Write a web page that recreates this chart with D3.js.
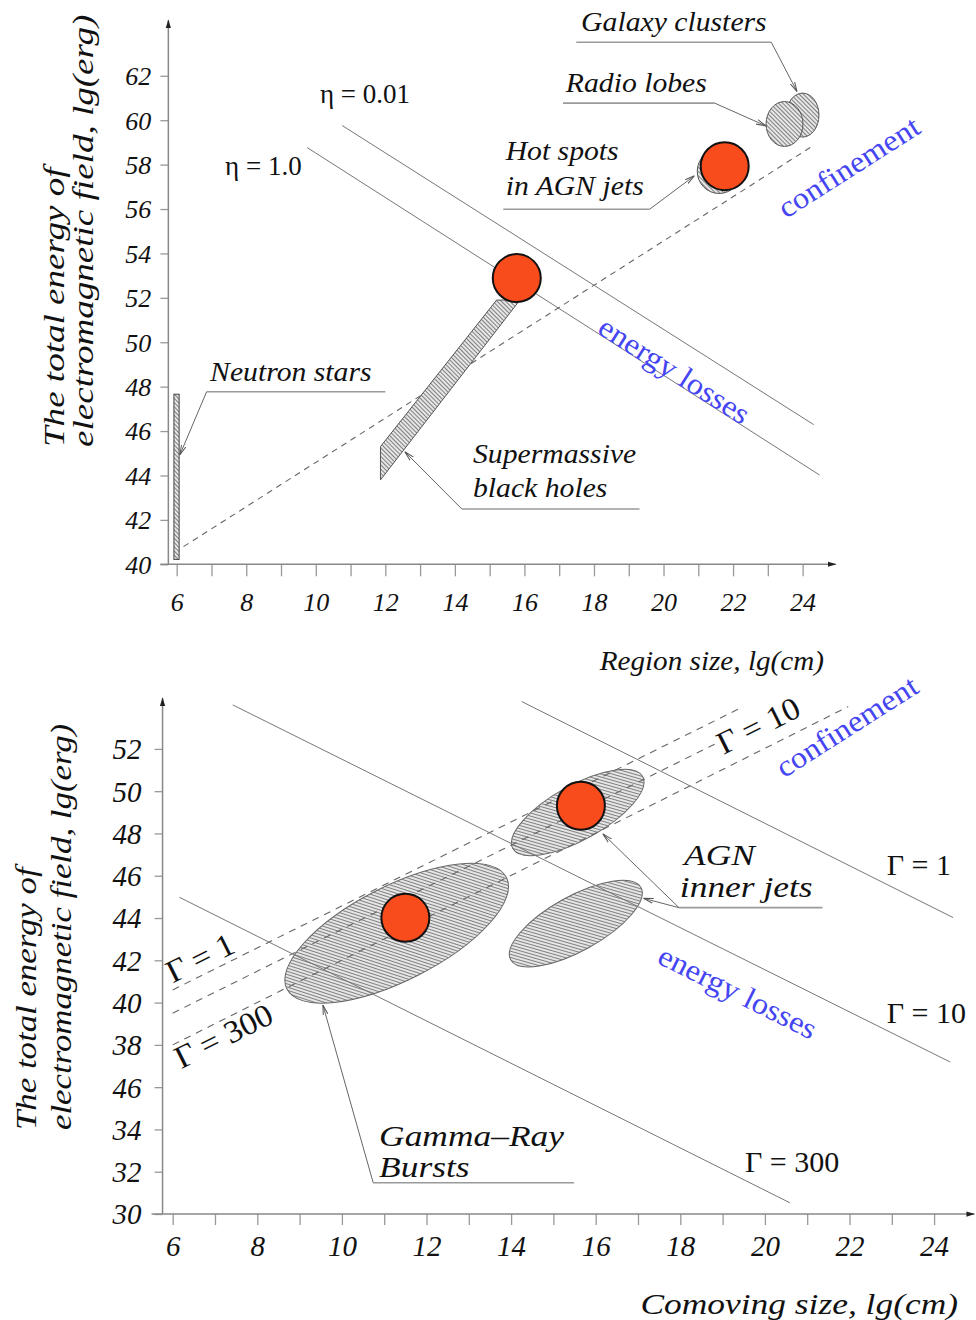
<!DOCTYPE html>
<html>
<head>
<meta charset="utf-8">
<script src="https://d3js.org/d3.v7.min.js"></script>
<style>
  body { margin: 0; background: #fff; }
  svg { display: block; }
</style>
</head>
<body>
<svg id="chart" width="976" height="1320"></svg>
<script>
// ---------- top panel: region size vs. field energy ----------
const topXTicks = d3.range(6, 25, 1)
const topYTicks = d3.range(40, 63, 2)

// loss lines (eta) and confinement line, [lg(cm), lg(erg)]
const etaLines = [
  { label: 'η = 1.0', pts: [[9.75, 58.77], [24.49, 44.02]] },
  { label: 'η = 0.01', pts: [[10.76, 59.76], [24.32, 46.29]] },
]
const topConfinement = [[5.93, 40.53], [24.25, 58.8]]

// source regions
const neutronStars = { x0: 5.92, x1: 6.07, y0: 40.22, y1: 47.66 }
const blackHoles = [[11.86, 43.8], [11.86, 45.3], [15.2, 51.9], [15.87, 51.9]]
const topBlobs = [
  { name: 'Galaxy clusters', cx: 24.0, cy: 60.23, rx: 0.47, ry: 0.99 },
  { name: 'Radio lobes', cx: 23.48, cy: 59.83, rx: 0.53, ry: 1.01 },
  { name: 'Hot spots', cx: 21.6, cy: 57.7, rx: 0.63, ry: 1.0 },
]
const topPoints = [[15.78, 52.89], [21.76, 57.93]]

const topNotes = [
  { text: 'Galaxy clusters', at: [17.63, 64.03] },
  { text: 'Radio lobes', at: [17.19, 61.27] },
  { text: 'Hot spots', at: [15.46, 58.21] },
  { text: 'in AGN jets', at: [15.46, 56.64] },
  { text: 'Neutron stars', at: [6.96, 48.26] },
  { text: 'Supermassive', at: [14.52, 44.55] },
  { text: 'black holes', at: [14.52, 43.03] },
]
const topLeaders = [
  { under: [[17.49, 63.51], [23.1, 63.51]], tips: [[23.84, 61.29]] },
  { under: [[17.11, 60.77], [21.47, 60.77]], tips: [[22.95, 59.74]] },
  { under: [[15.39, 55.99], [19.6, 55.99]], tips: [[20.89, 57.5]] },
  { under: [[12.0, 47.77], [6.86, 47.77]], tips: [[6.09, 44.92]] },
  { under: [[19.31, 42.49], [14.2, 42.49]], tips: [[12.56, 45.07]] },
]
const topEtaNotes = [
  { text: 'η = 1.0', at: [7.39, 57.54] },
  { text: 'η = 0.01', at: [10.12, 60.78] },
]
const topBlueNotes = [
  { text: 'confinement', at: [23.52, 55.55], slope: 1 },
  { text: 'energy losses', at: [18.06, 50.45], slope: -1 },
]

// ---------- bottom panel: comoving size vs. field energy ----------
const botXTicks = d3.range(6, 25, 1)
const botYTicks = d3.range(30, 53, 2)
const botYLabels = ['30', '32', '34', '46', '38', '40', '42', '44', '46', '48', '50', '52']

const gammaLoss = [
  { gamma: 1, pts: [[14.25, 54.24], [24.45, 44.02]] },
  { gamma: 10, pts: [[7.42, 54.08], [24.38, 37.19]] },
  { gamma: 300, pts: [[6.16, 44.98], [20.59, 30.53]] },
]
const gammaConf = [
  { gamma: 1, pts: [[6.0, 40.6], [19.49, 54.0]] },
  { gamma: 10, pts: [[6.0, 39.5], [18.86, 52.27]] },
  { gamma: 300, pts: [[6.0, 38.0], [21.97, 54.0]] },
]
// ellipses: ends of the long axis and half of the short axis (lg(erg))
const botBlobs = [
  { name: 'GRB', p1: [8.70, 40.64], p2: [13.89, 45.92], half: 2.23 },
  { name: 'AGN upper', p1: [14.04, 47.29], p2: [17.11, 50.69], half: 1.29 },
  { name: 'AGN lower', p1: [13.99, 42.03], p2: [17.07, 45.44], half: 1.29 },
]
const botPoints = [[11.5, 44.01], [15.65, 49.31]]

const botNotes = [
  { text: 'AGN', at: [18.09, 46.51] },
  { text: 'inner jets', at: [17.99, 45.0] },
  { text: 'Gamma–Ray', at: [10.88, 33.23] },
  { text: 'Bursts', at: [10.88, 31.76] },
]
const botLeaders = [
  { under: [[21.36, 44.49], [17.97, 44.49]], tips: [[16.17, 47.98], [17.13, 44.93]] },
  { under: [[15.49, 31.48], [10.74, 31.48]], tips: [[9.55, 39.89]] },
]
const botGammaNotes = [
  { text: 'Γ = 1', at: [22.88, 46.04] },
  { text: 'Γ = 10', at: [22.88, 39.02] },
  { text: 'Γ = 300', at: [19.53, 32.0] },
]
const botGammaSlanted = [
  { text: 'Γ = 1', at: [6.0, 40.9], slope: 1 },
  { text: 'Γ = 300', at: [6.2, 36.85], slope: 1 },
  { text: 'Γ = 10', at: [19.02, 51.71], slope: 1 },
]
const botBlueNotes = [
  { text: 'confinement', at: [20.45, 50.6], slope: 1.275 },
  { text: 'energy losses', at: [17.42, 41.9], slope: -1 },
]

// ---------- drawing ----------
const SERIF = "'Liberation Serif', 'Times New Roman', serif"
const BLUE = '#4545f2'
const RED = '#f84c1d'

const svg = d3.select('#chart').style('font-family', SERIF)
const defs = svg.append('defs')

const hatch = defs.append('pattern')
  .attr('id', 'hatch').attr('patternUnits', 'userSpaceOnUse')
  .attr('width', 3).attr('height', 3)
  .attr('patternTransform', 'rotate(-45)')
hatch.append('rect').attr('width', 3).attr('height', 3).attr('fill', '#e6e6e6')
hatch.append('line').attr('x1', 0.5).attr('y1', 0).attr('x2', 0.5).attr('y2', 3)
  .attr('stroke', '#6e6e6e').attr('stroke-width', 0.85)

defs.append('marker').attr('id', 'tip')
  .attr('viewBox', '0 -3 10 6').attr('refX', 10).attr('refY', 0)
  .attr('markerUnits', 'userSpaceOnUse').attr('markerWidth', 10).attr('markerHeight', 6)
  .attr('orient', 'auto')
  .append('path').attr('d', 'M0,-2.4L10,0L0,2.4').attr('fill', 'none')
  .attr('stroke', '#555').attr('stroke-width', 1)

defs.append('marker').attr('id', 'axisTip')
  .attr('viewBox', '0 -4 10 8').attr('refX', 9).attr('refY', 0)
  .attr('markerUnits', 'userSpaceOnUse').attr('markerWidth', 9).attr('markerHeight', 7)
  .attr('orient', 'auto')
  .append('path').attr('d', 'M0,-3L10,0L0,3Z').attr('fill', '#222')

// widen Times glyphs towards the look of Computer Modern
const stretch = (sel, k) => sel.each(function () {
  const len = this.getComputedTextLength()
  d3.select(this).attr('textLength', len * k).attr('lengthAdjust', 'spacingAndGlyphs')
})

const slopeAngle = (x, y, s) =>
  -Math.atan2((y(0) - y(s)), x(1) - x(0)) * 180 / Math.PI

function drawAxes(x, y, o) {
  const g = svg.append('g')
  const xg = g.append('g').attr('transform', `translate(0,${y(o.y0)})`)
    .call(d3.axisBottom(x).tickValues(o.xTicks).tickSize(o.xTickLen)
      .tickFormat(d => d % 2 ? '' : d))
  const yg = g.append('g').attr('transform', `translate(${x(o.axisX)},0)`)
    .call(d3.axisLeft(y).tickValues(o.yTicks).tickSize(8)
      .tickFormat((d, i) => o.yLabels ? o.yLabels[i] : d))
  g.selectAll('.domain').remove()
  g.selectAll('.tick line').attr('stroke', '#999').attr('stroke-width', 1.3)
  g.selectAll('.tick text').attr('fill', '#111').attr('font-family', SERIF)
    .attr('font-style', 'italic').attr('font-size', o.fs)
  xg.selectAll('.tick text').attr('y', o.xLabelY).attr('dy', 0)
  yg.selectAll('.tick text').attr('x', o.yLabelX).attr('dy', '0.34em')

  g.append('line')
    .attr('x1', x(o.xStart)).attr('x2', x(o.xEnd))
    .attr('y1', y(o.y0)).attr('y2', y(o.y0))
    .attr('stroke', '#888').attr('stroke-width', 1.5).attr('marker-end', 'url(#axisTip)')
  g.append('line')
    .attr('x1', x(o.axisX)).attr('x2', x(o.axisX))
    .attr('y1', y(o.y0)).attr('y2', y(o.yEnd))
    .attr('stroke', '#888').attr('stroke-width', 1.5).attr('marker-end', 'url(#axisTip)')
}

function drawLeaders(x, y, leaders) {
  leaders.forEach(l => {
    svg.append('line')
      .attr('x1', x(l.under[0][0])).attr('y1', y(l.under[0][1]))
      .attr('x2', x(l.under[1][0])).attr('y2', y(l.under[1][1]))
      .attr('stroke', '#9a9a9a').attr('stroke-width', 1.6)
    l.tips.forEach(t => {
      svg.append('line')
        .attr('x1', x(l.under[1][0])).attr('y1', y(l.under[1][1]))
        .attr('x2', x(t[0])).attr('y2', y(t[1]))
        .attr('stroke', '#666').attr('stroke-width', 1).attr('marker-end', 'url(#tip)')
    })
  })
}

function drawNotes(x, y, notes, style) {
  notes.forEach(n => {
    const px = x(n.at[0]), py = y(n.at[1])
    const t = svg.append('text')
      .attr('x', px).attr('y', py)
      .attr('font-size', style.fs).attr('fill', style.fill || '#111')
      .attr('font-style', style.italic ? 'italic' : 'normal')
      .text(n.text)
    if (n.slope) t.attr('transform', `rotate(${slopeAngle(x, y, n.slope)},${px},${py})`)
    if (style.k) stretch(t, style.k)
  })
}

function points(x, y, pts) {
  svg.append('g').selectAll('circle').data(pts).join('circle')
    .attr('cx', d => x(d[0])).attr('cy', d => y(d[1])).attr('r', 24)
    .attr('fill', RED).attr('stroke', '#111').attr('stroke-width', 2)
}

// ----- top panel -----
const topX = d3.scaleLinear().domain([6, 24]).range([176.7, 802.6])
const topY = d3.scaleLinear().domain([40, 62]).range([564.3, 75.8])
const topLine = d3.line().x(d => topX(d[0])).y(d => topY(d[1]))

drawAxes(topX, topY, {
  xTicks: topXTicks, yTicks: topYTicks, y0: 40, axisX: 5.76,
  xStart: 5.53, xEnd: 24.95, yEnd: 64.5, xTickLen: 12, fs: 26,
  xLabelY: 46.5, yLabelX: -17,
})

svg.append('path').attr('d', topLine(topConfinement))
  .attr('fill', 'none').attr('stroke', '#666').attr('stroke-width', 1.1)
  .attr('stroke-dasharray', '6,5')
etaLines.forEach(l => svg.append('path').attr('d', topLine(l.pts))
  .attr('fill', 'none').attr('stroke', '#777').attr('stroke-width', 1))

svg.append('path').attr('d', topLine(blackHoles) + 'Z')
  .attr('fill', 'url(#hatch)').attr('stroke', '#555').attr('stroke-width', 1)
svg.append('rect')
  .attr('x', topX(neutronStars.x0)).attr('y', topY(neutronStars.y1))
  .attr('width', topX(neutronStars.x1) - topX(neutronStars.x0))
  .attr('height', topY(neutronStars.y0) - topY(neutronStars.y1))
  .attr('fill', 'url(#hatch)').attr('stroke', '#444').attr('stroke-width', 1)
svg.append('g').selectAll('ellipse').data(topBlobs).join('ellipse')
  .attr('cx', d => topX(d.cx)).attr('cy', d => topY(d.cy))
  .attr('rx', d => topX(d.cx + d.rx) - topX(d.cx))
  .attr('ry', d => topY(d.cy) - topY(d.cy + d.ry))
  .attr('fill', 'url(#hatch)').attr('stroke', '#555').attr('stroke-width', 1)

points(topX, topY, topPoints)
drawLeaders(topX, topY, topLeaders)
drawNotes(topX, topY, topNotes, { fs: 27, italic: true, k: 1.1 })
drawNotes(topX, topY, topEtaNotes, { fs: 27 })
drawNotes(topX, topY, topBlueNotes, { fs: 30, fill: BLUE, k: 1.08 })

// axis titles
stretch(svg.append('text').attr('x', 824).attr('y', 670).attr('text-anchor', 'end')
  .attr('font-size', 27).attr('font-style', 'italic').attr('fill', '#111')
  .text('Region size, lg(cm)'), 1.08)
;[['The total energy of', 63.5], ['electromagnetic field, lg(erg)', 93]].forEach(([s, bx]) => {
  stretch(svg.append('text').attr('transform', `translate(${bx},447) rotate(-90)`)
    .attr('font-size', 30).attr('font-style', 'italic').attr('fill', '#111').text(s), 1.235)
})

// ----- bottom panel -----
const botX = d3.scaleLinear().domain([6, 24]).range([172.7, 934.1])
const botY = d3.scaleLinear().domain([30, 52]).range([1214, 748.9])
const botLine = d3.line().x(d => botX(d[0])).y(d => botY(d[1]))

drawAxes(botX, botY, {
  xTicks: botXTicks, yTicks: botYTicks, yLabels: botYLabels, y0: 30, axisX: 5.76,
  xStart: 5.5, xEnd: 24.95, yEnd: 54.4, xTickLen: 11, fs: 29,
  xLabelY: 42, yLabelX: -21,
})

botBlobs.forEach(b => {
  const x1 = botX(b.p1[0]), y1 = botY(b.p1[1]), x2 = botX(b.p2[0]), y2 = botY(b.p2[1])
  const cx = (x1 + x2) / 2, cy = (y1 + y2) / 2
  const ang = Math.atan2(y2 - y1, x2 - x1) * 180 / Math.PI
  svg.append('ellipse')
    .attr('cx', cx).attr('cy', cy)
    .attr('rx', Math.hypot(x2 - x1, y2 - y1) / 2)
    .attr('ry', botY(0) - botY(b.half))
    .attr('transform', `rotate(${ang},${cx},${cy})`)
    .attr('fill', 'url(#hatch)').attr('stroke', '#666').attr('stroke-width', 1)
})

gammaConf.forEach(l => svg.append('path').attr('d', botLine(l.pts))
  .attr('fill', 'none').attr('stroke', '#666').attr('stroke-width', 1.1)
  .attr('stroke-dasharray', '7,6'))
gammaLoss.forEach(l => svg.append('path').attr('d', botLine(l.pts))
  .attr('fill', 'none').attr('stroke', '#777').attr('stroke-width', 1))

points(botX, botY, botPoints)
drawLeaders(botX, botY, botLeaders)
drawNotes(botX, botY, botNotes, { fs: 30, italic: true, k: 1.18 })
drawNotes(botX, botY, botGammaNotes, { fs: 30 })
drawNotes(botX, botY, botGammaSlanted, { fs: 32, k: 1.05 })
drawNotes(botX, botY, botBlueNotes, { fs: 30, fill: BLUE, k: 1.08 })

stretch(svg.append('text').attr('x', 958).attr('y', 1314).attr('text-anchor', 'end')
  .attr('font-size', 30).attr('font-style', 'italic').attr('fill', '#111')
  .text('Comoving size, lg(cm)'), 1.18)
;[['The total energy of', 36], ['electromagnetic field, lg(erg)', 71]].forEach(([s, bx]) => {
  stretch(svg.append('text').attr('transform', `translate(${bx},1130) rotate(-90)`)
    .attr('font-size', 30).attr('font-style', 'italic').attr('fill', '#111').text(s), 1.16)
})
</script>
</body>
</html>
